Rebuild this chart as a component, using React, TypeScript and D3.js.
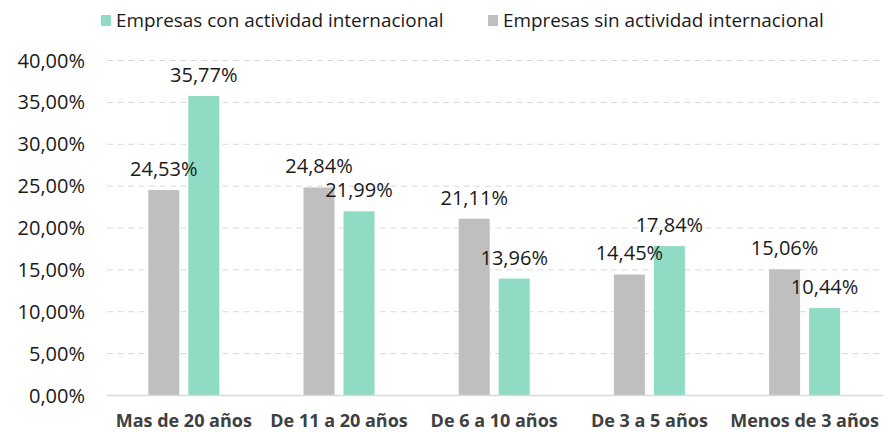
import React from "react";
import * as d3 from "d3";

const categories = ["Mas de 20 años", "De 11 a 20 años", "De 6 a 10 años", "De 3 a 5 años", "Menos de 3 años"];
const sinValues = [24.53, 24.84, 21.11, 14.45, 15.06];
const conValues = [35.77, 21.99, 13.96, 17.84, 10.44];
const yTicks = [0, 5, 10, 15, 20, 25, 30, 35, 40];
const seriesNames = ["Empresas con actividad internacional", "Empresas sin actividad internacional"];

const GREEN = "#8fdbc3";
const GRAY = "#bfbfbf";
const FONT = "'Open Sans', 'Noto Sans', sans-serif";

const fmt = (v: number) => v.toFixed(2).replace(".", ",") + "%";

export default function App() {
  const W = 892, H = 432;
  const x0 = 107, x1 = 883;
  const y = d3.scaleLinear().domain([0, 40]).range([395.5, 60.5]);
  const x = d3.scaleBand<string>().domain(categories).range([x0, x1]).paddingInner(0).paddingOuter(0);
  const barW = 31, gap = 9;
  const groupW = barW * 2 + gap;
  const NUM = 20;

  return (
    <svg width={W} height={H} style={{ position: "absolute", left: 0, top: 0, background: "#fff" }}>
      {/* legend */}
      <rect x={101} y={15} width={10} height={11} fill={GREEN} />
      <text x={116} y={27} fontFamily={FONT} fontSize={18.9} fill="#1a1a1a">{seriesNames[0]}</text>
      <rect x={488} y={15} width={10} height={11} fill={GRAY} />
      <text x={503} y={27} fontFamily={FONT} fontSize={18.9} fill="#1a1a1a">{seriesNames[1]}</text>

      {/* gridlines */}
      {yTicks.map((t) => (
        t === 0 ? null :
        <line key={t} x1={x0} x2={x1} y1={y(t)} y2={y(t)} stroke="#d9d9d9" strokeWidth={1} strokeDasharray="6,4.5" />
      ))}
      {/* y labels */}
      {yTicks.map((t) => (
        <text key={"yl" + t} x={85} y={y(t) + 7} textAnchor="end" fontFamily={FONT} fontSize={NUM} fill="#1a1a1a">{fmt(t)}</text>
      ))}

      {/* bars */}
      {categories.map((c, i) => {
        const cx = (x(c) as number) + x.bandwidth() / 2 - 0.8;
        const gx = cx - groupW / 2;
        const hx = gx + barW + gap;
        return (
          <g key={c}>
            <rect x={gx} y={y(sinValues[i])} width={barW} height={y(0) - y(sinValues[i])} fill={GRAY} />
            <rect x={hx} y={y(conValues[i])} width={barW} height={y(0) - y(conValues[i])} fill={GREEN} />
            <text x={gx + barW / 2} y={y(sinValues[i]) - 14} textAnchor="middle" fontFamily={FONT} fontSize={NUM} fill="#1a1a1a">{fmt(sinValues[i])}</text>
            <text x={hx + barW / 2} y={y(conValues[i]) - 14} textAnchor="middle" fontFamily={FONT} fontSize={NUM} fill="#1a1a1a">{fmt(conValues[i])}</text>
            <text x={cx} y={427} textAnchor="middle" fontFamily={FONT} fontSize={18} fontWeight="bold" fill="#404040">{c}</text>
          </g>
        );
      })}

      {/* axis */}
      <line x1={x0} x2={x1} y1={y(0)} y2={y(0)} stroke="#d9d9d9" strokeWidth={1.5} />
    </svg>
  );
}
